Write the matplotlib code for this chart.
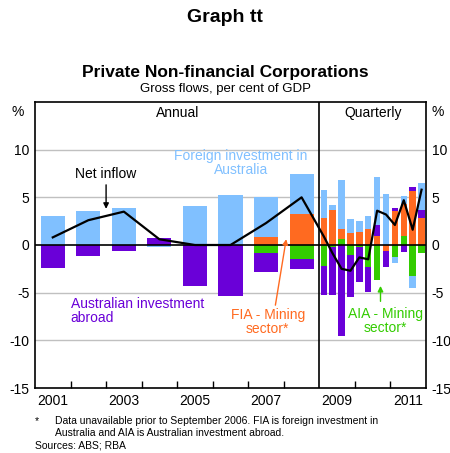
import numpy as np
import matplotlib
matplotlib.use("Agg")
import matplotlib.pyplot as plt

plt.rcParams['font.family'] = ['Liberation Sans', 'DejaVu Sans']
plt.rcParams['axes.unicode_minus'] = False

# annual data, 2001-2008 (per cent of GDP)
years = [2001, 2002, 2003, 2004, 2005, 2006, 2007, 2008]
ann_fia_other = [3.0, 3.6, 3.9, -0.2, 4.1, 5.2, 4.2, 4.15]
ann_fia_mining = [0, 0, 0, 0, 0, 0, 0.8, 3.3]
ann_aia_other = [-2.4, -1.2, -0.65, 0.7, -4.3, -5.35, -1.95, -1.0]
ann_aia_mining = [0, 0, 0, 0, 0, 0, -0.87, -1.5]
ann_net = [0.8, 2.6, 3.5, 0.6, 0.0, 0.0, 2.3, 5.0]

# quarterly data, 2009 Q1 - 2011 Q4
quarters = ['Q1 09', 'Q2 09', 'Q3 09', 'Q4 09', 'Q1 10', 'Q2 10',
            'Q3 10', 'Q4 10', 'Q1 11', 'Q2 11', 'Q3 11', 'Q4 11']
q_fia_other = [2.9, 0.55, 5.13, 1.4, 1.1, 1.3, 5.0, 5.3, -0.6, 0.75, -1.3, 2.85]
q_fia_mining = [2.85, 3.65, 1.04, 1.3, 1.4, 1.7, 0.95, -0.6, 3.6, 3.4, 5.65, 2.85]
q_aia_other = [-3.0, -5.0, -9.5, -4.5, -3.65, -2.6, 1.15, -1.75, 0.23, -0.7, 0.45, 0.8]
q_aia_mining = [-2.2, -0.2, 0.63, -1.0, -0.25, -2.3, -3.7, 0, -1.3, 0.94, -3.2, -0.8]
q_net = [0.9, -0.9, -2.5, -2.7, -1.3, -1.5, 3.6, 3.2, 2.1, 4.7, 1.6, 5.8]

c_blue = '#80c0ff'
c_orange = '#ff6a20'
c_purple = '#6a00d8'
c_green = '#33cc00'

fig = plt.figure(figsize=(4.5, 4.53), dpi=100)
ax = fig.add_axes([35/450, 1-388/453, 391/450, 286/453])

ann_x = np.arange(len(years)) + 0.5
q_x = 8 + (np.arange(len(quarters)) + 0.5) / 4


def stack(x, series, colors, width):
    pos = np.zeros(len(x))
    neg = np.zeros(len(x))
    for vals, col in zip(series, colors):
        vals = np.array(vals, dtype=float)
        bottom = np.where(vals >= 0, pos, neg)
        ax.bar(x, vals, width=width, bottom=bottom, color=col, linewidth=0, zorder=2)
        pos = pos + np.where(vals >= 0, vals, 0)
        neg = neg + np.where(vals < 0, vals, 0)


order_cols = [c_green, c_orange, c_purple, c_blue]
stack(ann_x, [ann_aia_mining, ann_fia_mining, ann_aia_other, ann_fia_other], order_cols, 0.68)
stack(q_x, [q_aia_mining, q_fia_mining, q_aia_other, q_fia_other], order_cols, 0.18)

line_x = np.concatenate([ann_x, q_x])
line_y = ann_net + q_net
ax.plot(line_x, line_y, color='black', lw=1.6, zorder=4)

ax.set_xlim(0, 11)
ax.set_ylim(-15, 15)
for g in [10, 5, -5, -10]:
    ax.axhline(g, color='#c0c0c0', lw=1, zorder=0)
ax.axhline(0, color='black', lw=1.2, zorder=3)
ax.axvline(8, color='black', lw=1.2, zorder=3)

ax.set_yticks([-15, -10, -5, 0, 5, 10])
ax.tick_params(axis='y', length=0, labelsize=10, labelright=True, pad=4)
ax.set_xticks([1, 2, 3, 4, 5, 6, 7, 9, 10])
ax.set_xticklabels([])
ax.tick_params(axis='x', direction='in', length=5, width=1)
for xl, lab in zip([0.5, 2.5, 4.5, 6.5, 8.5, 10.5], ['2001', '2003', '2005', '2007', '2009', '2011']):
    ax.text(xl, -15.6, lab, ha='center', va='top', fontsize=10)
for sp in ax.spines.values():
    sp.set_linewidth(1.2)

# labels
ax.text(-0.3, 14.0, '%', ha='right', va='center', fontsize=10, clip_on=False)
ax.text(11.15, 14.0, '%', ha='left', va='center', fontsize=10, clip_on=False)
ax.text(4.0, 13.8, 'Annual', ha='center', va='center', fontsize=10)
ax.text(9.5, 13.8, 'Quarterly', ha='center', va='center', fontsize=10)

ax.text(2.0, 7.5, 'Net inflow', ha='center', va='center', fontsize=10)
ax.annotate('', xy=(2.0, 3.5), xytext=(2.0, 6.6),
            arrowprops=dict(arrowstyle='-|>', color='black', lw=1, mutation_scale=8))
ax.text(5.8, 8.6, 'Foreign investment in\nAustralia', ha='center', va='center',
        fontsize=10, color=c_blue, linespacing=1.0)
ax.text(1.0, -6.9, 'Australian investment\nabroad', ha='left', va='center',
        fontsize=10, color=c_purple, linespacing=1.0)
ax.text(6.55, -8.1, 'FIA - Mining\nsector*', ha='center', va='center',
        fontsize=10, color=c_orange, linespacing=1.0)
ax.annotate('', xy=(7.08, 0.9), xytext=(6.75, -6.6),
            arrowprops=dict(arrowstyle='-|>', color=c_orange, lw=1, mutation_scale=8))
ax.text(9.85, -8.0, 'AIA - Mining\nsector*', ha='center', va='center',
        fontsize=10, color=c_green, linespacing=1.0)
ax.annotate('', xy=(9.72, -4.0), xytext=(9.72, -6.2),
            arrowprops=dict(arrowstyle='-|>', color=c_green, lw=1, mutation_scale=8))

fig.text(0.5, 1-18/453, 'Graph tt', ha='center', va='center', fontsize=14, fontweight='bold')
fig.text(0.5, 1-72/453, 'Private Non-financial Corporations', ha='center', va='center',
         fontsize=12.5, fontweight='bold')
fig.text(0.5, 1-89/453, 'Gross flows, per cent of GDP', ha='center', va='center', fontsize=9.5)

fig.text(35/450, 1-421/453, '*', ha='left', va='center', fontsize=7.5)
fig.text(55/450, 1-421/453, 'Data unavailable prior to September 2006. FIA is foreign investment in',
         ha='left', va='center', fontsize=7.5)
fig.text(55/450, 1-433/453, 'Australia and AIA is Australian investment abroad.',
         ha='left', va='center', fontsize=7.5)
fig.text(35/450, 1-445/453, 'Sources: ABS; RBA', ha='left', va='center', fontsize=7.5)

fig.savefig('out.png', dpi=100, facecolor='white')
